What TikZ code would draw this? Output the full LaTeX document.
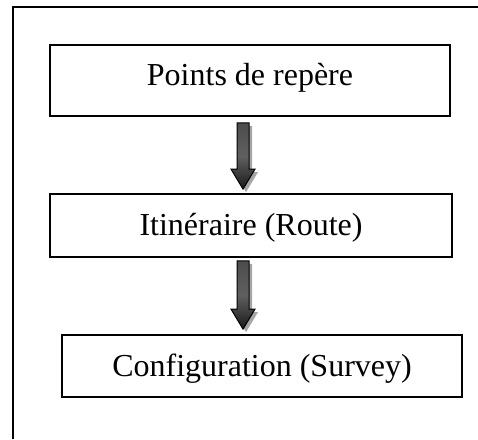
\documentclass[tikz,border=0pt]{standalone}
\usepackage{fontspec}
\setmainfont{Liberation Serif}
\usetikzlibrary{calc}
\begin{document}
\begin{tikzpicture}[x=1pt,y=-1pt,
  box/.style={draw=black,line width=1.8pt,fill=white,rectangle,inner sep=0pt},
  lbl/.style={anchor=base,inner sep=0pt,font=\fontsize{32}{38}\selectfont},
  frame/.style={line width=2pt,black},
  arrowshadow/.style={fill=gray!70},
  arrowbody/.style={top color=gray!60!black,bottom color=black!90,middle color=gray!75!black,draw=black,line width=1pt}]
\useasboundingbox (0,0) rectangle (478,439);
% outer frame (left and top edges only visible)
\coordinate (fTop) at (13,7);
\coordinate (fRight) at (478,7);
\coordinate (fBottom) at (13,439);
\draw[frame] (fBottom) -- (fTop) -- (fRight);
% boxes
\node[box,minimum width=400pt,minimum height=71pt] (b1) at (250,80.5) {};
\node[box,minimum width=402pt,minimum height=63pt] (b2) at (251,225.5) {};
\node[box,minimum width=400pt,minimum height=62pt] (b3) at (262,366) {};
\node[lbl] (t1) at (250,85) {Points de repère};
\node[lbl] (t2) at (251,235) {Itinéraire (Route)};
\node[lbl] (t3) at (262,376) {Configuration (Survey)};
% arrow end points
\coordinate (a1s) at ($(b1.south)+(-7,6)$);
\coordinate (a1e) at ($(b2.north)+(-8,-4)$);
\coordinate (a2s) at ($(b2.south)+(-8,3)$);
\coordinate (a2e) at ($(b3.north)+(-19,-5)$);
% block arrow from #1 to #2 (pointing down)
\newcommand{\bigarrow}[2]{%
  \path[arrowshadow] let \p1=(#1),\p2=(#2) in
    (\x1-3pt,\y1-3pt) -- (\x1+9pt,\y1-3pt) -- (\x1+9pt,\y2+17pt) -- (\x1+15pt,\y2+17pt) -- (\x1+3pt,\y2-3pt)
    -- (\x1-9pt,\y2+17pt) -- (\x1-3pt,\y2+17pt) -- cycle;
  \path[arrowbody] let \p1=(#1),\p2=(#2) in
    (\x1-6pt,\y1) -- (\x1+6pt,\y1) -- (\x1+6pt,\y2+20pt) -- (\x1+12pt,\y2+20pt) -- (\x1,\y2)
    -- (\x1-12pt,\y2+20pt) -- (\x1-6pt,\y2+20pt) -- cycle;}
\bigarrow{a1s}{a1e}
\bigarrow{a2s}{a2e}
\end{tikzpicture}
\end{document}
